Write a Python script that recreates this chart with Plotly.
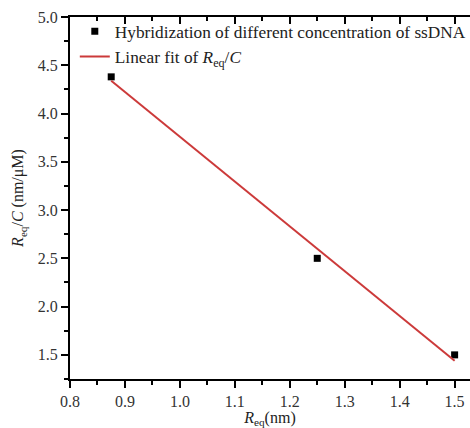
import plotly.graph_objects as go

req_x = [0.875, 1.25, 1.5]
req_over_c = [4.38, 2.5, 1.5]
fit_x = [0.875, 1.5]
fit_y = [4.34, 1.44]

FONT = "Liberation Serif"

fig = go.Figure()
fig.add_trace(go.Scatter(
    x=req_x, y=req_over_c, mode="markers",
    marker=dict(symbol="square", size=7, color="black"),
    name="Hybridization of different concentration of ssDNA"))
fig.add_trace(go.Scatter(
    x=fit_x, y=fit_y, mode="lines",
    line=dict(color="#cc3a3a", width=2),
    name="Linear fit of <i>R</i><sub>eq</sub>/<i>C</i>"))
# dummy trace to show top axis
fig.add_trace(go.Scatter(x=[None], y=[None], xaxis="x2", showlegend=False))

xr = [0.8, 1.528]
fig.update_layout(
    width=470, height=428,
    margin=dict(l=70, r=0, t=17, b=49, autoexpand=False),
    paper_bgcolor="white", plot_bgcolor="white",
    font=dict(family=FONT, size=16, color="#333"),
    showlegend=True,
    legend=dict(x=0.012, y=1.01, xanchor="left", yanchor="top",
                bgcolor="rgba(0,0,0,0)", font=dict(size=17.3, color="#222"),
                tracegroupgap=0, itemwidth=30),
    xaxis=dict(range=xr, showgrid=False, zeroline=False, automargin=False,
               showline=True, linecolor="black", linewidth=2,
               ticks="outside", ticklen=7, tickwidth=2, tickcolor="black",
               dtick=0.1, tick0=0.8, tickformat=".1f",
               minor=dict(ticks="outside", ticklen=4, tickwidth=2, dtick=0.05, tickcolor="black"),
               title=dict(text="<i>R</i><sub>eq</sub>(nm)", standoff=3,
                          font=dict(size=16, color="#222"))),
    xaxis2=dict(range=xr, overlaying="x", side="top", showgrid=False, zeroline=False,
                automargin=False,
                showline=True, linecolor="black", linewidth=2,
                ticks="inside", ticklen=7, tickwidth=2, tickcolor="black",
                dtick=0.1, tick0=0.8, showticklabels=False,
                minor=dict(ticks="inside", ticklen=4, tickwidth=2, dtick=0.05, tickcolor="black")),
    yaxis=dict(range=[1.25, 5.0], showgrid=False, zeroline=False, automargin=False,
               showline=True, linecolor="black", linewidth=2,
               ticks="outside", ticklen=7, tickwidth=2, tickcolor="black",
               dtick=0.5, tick0=1.5, tickformat=".1f",
               minor=dict(ticks="outside", ticklen=4, tickwidth=2, dtick=0.25, tickcolor="black"),
               title=dict(text="<i>R</i><sub>eq</sub>/<i>C</i> (nm/μM)", standoff=10,
                          font=dict(size=16, color="#222"))),
)
fig.write_html("out.html", config={"displayModeBar": False},
               post_script="document.body.style.margin='0';document.body.style.overflow='hidden';")
